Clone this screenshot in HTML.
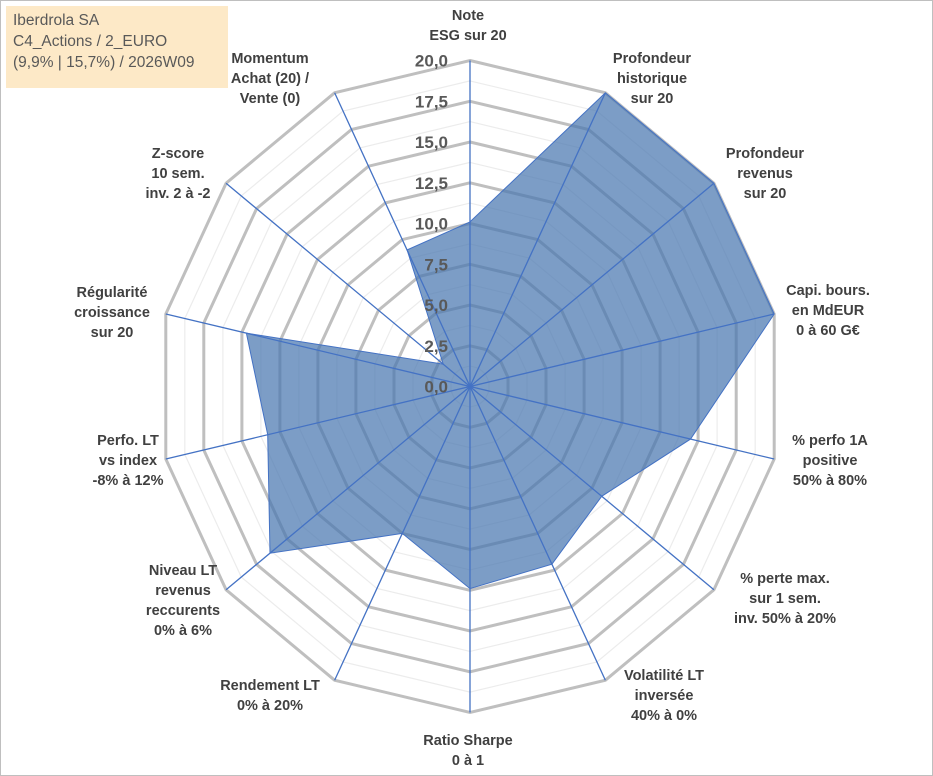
<!DOCTYPE html>
<html><head><meta charset="utf-8">
<style>
html,body{margin:0;padding:0;background:#fff;}
#wrap{position:relative;width:933px;height:776px;overflow:hidden;font-family:"Liberation Sans",sans-serif;}
#frame{position:absolute;left:0;top:0;width:931px;height:774px;border:1px solid #bfbfbf;}
#title{position:absolute;left:6px;top:6px;width:222px;height:82px;background:#fde9c7;color:#595959;font-size:15.5px;line-height:21px;padding:4px 0 0 7px;box-sizing:border-box;}
svg{position:absolute;left:0;top:0;}
.cat{font-weight:bold;font-size:14.5px;fill:#404040;text-anchor:middle;}
.tick{font-weight:bold;font-size:17px;fill:#595959;text-anchor:end;}
</style></head><body>
<div id="wrap">
<div id="frame"></div>
<div id="title">Iberdrola SA<br>C4_Actions / 2_EURO<br>(9,9% | 15,7%) / 2026W09</div>
<svg id="chart" width="933" height="776"></svg>
</div>
<script>
const categories = [
 ["Note","ESG sur 20"],
 ["Profondeur","historique","sur 20"],
 ["Profondeur","revenus","sur 20"],
 ["Capi. bours.","en MdEUR","0 à 60 G€"],
 ["% perfo 1A","positive","50% à 80%"],
 ["% perte max.","sur 1 sem.","inv. 50% à 20%"],
 ["Volatilité LT","inversée","40% à 0%"],
 ["Ratio Sharpe","0 à 1"],
 ["Rendement LT","0% à 20%"],
 ["Niveau LT","revenus","reccurents","0% à 6%"],
 ["Perfo. LT","vs index","-8% à 12%"],
 ["Régularité","croissance","sur 20"],
 ["Z-score","10 sem.","inv. 2 à -2"],
 ["Momentum","Achat (20) /","Vente (0)"]
];
const values = [10.1, 20, 20, 20, 14.5, 10.8, 12.1, 12.4, 10.0, 16.4, 13.3, 14.7, 2.2, 9.3];
const tickValues = [0, 2.5, 5, 7.5, 10, 12.5, 15, 17.5, 20];
const tickLabels = ["0,0","2,5","5,0","7,5","10,0","12,5","15,0","17,5","20,0"];
const labelPos = [[468,20],[652,63],[765,158],[828,295],[830,445],[785,583],[664,680],[468,745],[270,690],[183,575],[128,445],[112,297],[178,158],[270,63]];

const NS="http://www.w3.org/2000/svg";
const svg=document.getElementById('chart');
const cx=470, cy=386.5, RX=312, RY=326, MAX=20;
const N=categories.length;
function ang(i){return i*2*Math.PI/N;}
function px(i,v){return cx+RX*(v/MAX)*Math.sin(ang(i));}
function py(i,v){return cy-RY*(v/MAX)*Math.cos(ang(i));}
function mk(tag,attrs){const e=document.createElementNS(NS,tag);for(const k in attrs)e.setAttribute(k,attrs[k]);svg.appendChild(e);return e;}
function ringPts(v){let s=[];for(let i=0;i<N;i++)s.push(px(i,v).toFixed(1)+","+py(i,v).toFixed(1));return s.join(" ");}
for(let t=0;t<tickValues.length-1;t++){
 const v=(tickValues[t]+tickValues[t+1])/2;
 const e=mk('polygon',{points:ringPts(v),fill:'none',stroke:'#ececec','stroke-width':1.2});
 
 
}
tickValues.forEach(v=>{ if(v===0)return;
 const e=mk('polygon',{points:ringPts(v),fill:'none',stroke:'#bfbfbf','stroke-width':3});
 
 
});
let pts=[];for(let i=0;i<N;i++)pts.push(px(i,values[i]).toFixed(1)+","+py(i,values[i]).toFixed(1));
const area=mk('polygon',{points:pts.join(" "),fill:'#4a77b0','fill-opacity':0.72,stroke:'#4472c4','stroke-width':1});


for(let i=0;i<N;i++){
 const e=mk('line',{x1:cx,y1:cy,x2:px(i,MAX),y2:py(i,MAX),stroke:'#4472c4','stroke-width':1.3});
 
 
}
tickValues.forEach((v,k)=>{
 const e=mk('text',{x:448,y:py(0,v)+6,class:'tick'});
 e.textContent=tickLabels[k];
 
 
});
categories.forEach((lines,i)=>{
 const t=mk('text',{class:'cat',x:labelPos[i][0],y:labelPos[i][1]});
 
 
 lines.forEach((l,j)=>{const s=document.createElementNS(NS,'tspan');s.setAttribute('x',labelPos[i][0]);s.setAttribute('dy',j?20:0);s.textContent=l;t.appendChild(s);});
});
</script>
</body></html>
